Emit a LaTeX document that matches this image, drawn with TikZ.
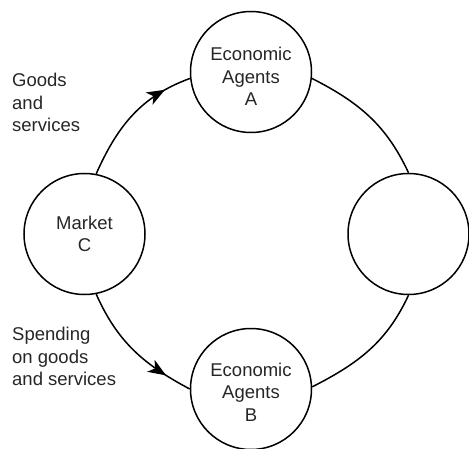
\documentclass[tikz,border=0pt]{standalone}
\usepackage{fontspec}
\setmainfont{Liberation Sans}
\usetikzlibrary{arrows.meta,decorations.markings}
\begin{document}
\begin{tikzpicture}[x=1pt,y=1pt,
  every node/.style={font=\fontsize{18.5}{22.5}\selectfont, text=black!85},
  agent/.style={draw, circle, line width=1.5pt, minimum size=121pt, inner sep=0pt},
  lbl/.style={align=center, inner sep=0pt},
  side/.style={align=left, inner sep=0pt, anchor=north west},
  flow/.style={line width=1.5pt},
  midarrow/.style={postaction={decorate}, decoration={markings,
     mark=at position #1 with {\arrow{Stealth[length=18pt,width=14pt,inset=5pt]}}}}
]
\useasboundingbox (0,0) rectangle (469,448);
\node[agent] (A) at (251,376) {};
\node[agent] (C) at (84.5,214) {};
\node[agent] (D) at (408.5,214) {};
\node[agent] (B) at (251,59) {};
\node[lbl] (At) at ([yshift=-4.5pt]A.center) {Economic\\Agents\\A};
\node[lbl] (Ct) at (C.center) {Market\\C};
\node[lbl] (Bt) at ([yshift=-3pt]B.center) {Economic\\Agents\\B};
\node[side] (L1) at (12,375) {Goods\\and\\services};
\node[side] (L2) at (12,121) {Spending\\on goods\\and services};
\draw[flow, midarrow=0.8] (C.79) to[out=66,in=200] (A.186);
\draw[flow, midarrow=0.8] (C.-79) to[out=-66,in=152] (B.180);
\draw[flow] (A.-6) to[out=-27,in=115] (D.90);
\draw[flow] (D.-90) to[out=-115,in=27] (B.2);
\end{tikzpicture}
\end{document}
